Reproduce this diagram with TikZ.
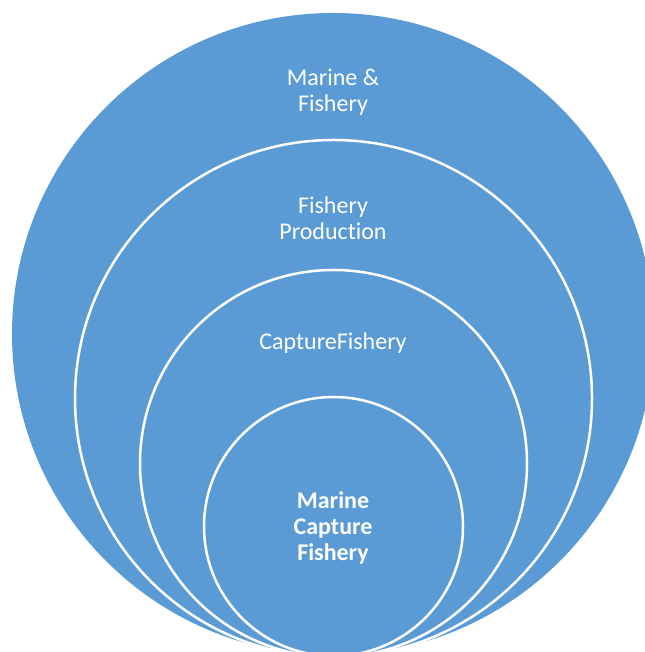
\documentclass[tikz,border=0pt]{standalone}
\usepackage{fontspec}
\setmainfont[Ligatures=CommonOff]{Carlito}
\usepackage{tikz}
\definecolor{ringblue}{HTML}{5B9BD5}

\begin{document}
\begin{tikzpicture}[x=1pt,y=1pt,
		ring/.style={circle,fill=ringblue,draw=white,line width=2.5pt,inner sep=0pt},
		label/.style={text=white,align=center,font=\fontsize{24}{26}\selectfont}]
		\useasboundingbox (0,0) rectangle (644,652);
		\node[ring,draw=none,minimum size=642pt] (marine) at (333,318) {};
		\node[ring,minimum size=517pt] (production) at (333.5,253.5) {};
		\node[ring,minimum size=387pt] (capture) at (333.5,188.5) {};
		\node[ring,minimum size=259pt] (marinecapture) at (333.5,125.5) {};
		\node[label] (tmarine) at (333,560) {Marine \&\\Fishery};
		\node[label] (tproduction) at (333,434) {Fishery\\Production};
		\node[label] (tcapture) at (333,309) {CaptureFishery};
		\node[label,font=\fontsize{24}{26}\selectfont\bfseries] (tmarinecapture) at (333,124) {Marine\\Capture\\Fishery};
	\end{tikzpicture}
\end{document}
